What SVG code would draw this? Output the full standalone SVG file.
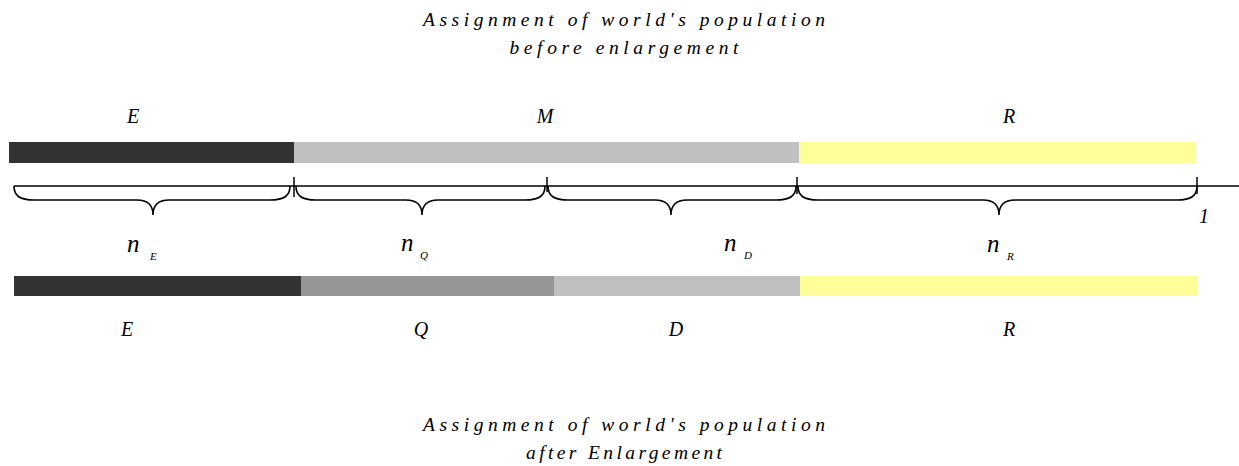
<svg xmlns="http://www.w3.org/2000/svg" width="1239" height="466" viewBox="0 0 1239 466">
<style>
text{font-family:"Liberation Serif","Times New Roman",serif;font-style:italic;fill:#000}
.t{font-size:19.5px;text-anchor:middle}
.l{font-size:20px;text-anchor:middle}
.n{font-size:25px}
.s{font-size:11px}
.br{fill:none;stroke:#000;stroke-width:1.6}
.ax{stroke:#000;stroke-width:1.5}
</style>
<rect width="1239" height="466" fill="#fff"/>
<g id="title-before">
<text class="t" x="624" y="26" textLength="402" lengthAdjust="spacing">Assignment of world's population</text>
<text class="t" x="624" y="54" textLength="229" lengthAdjust="spacing">before enlargement</text>
</g>
<g id="bar-before">
<rect x="9" y="142" width="285" height="21" fill="#333333"/>
<rect x="294" y="142" width="506" height="21" fill="#c0c0c0"/>
<rect x="799" y="142" width="397" height="21" fill="#ffff99"/>
<text class="l" x="133" y="123">E</text>
<text class="l" x="545" y="123">M</text>
<text class="l" x="1009" y="123">R</text>
</g>
<g id="connectors">
<line class="ax" x1="14" y1="186" x2="1239" y2="186"/>
<line class="ax" x1="294" y1="177" x2="294" y2="197"/>
<line class="ax" x1="547" y1="177" x2="547" y2="192"/>
<line class="ax" x1="797" y1="177" x2="797" y2="194"/>
<line class="ax" x1="1197" y1="177" x2="1197" y2="194"/>
<path class="br" d="M14,186 C14,196 20,200 34,200 L137,200 C147,200 153,204 153,215 C153,204 159,200 169,200 L270,200 C284,200 290,196 290,186"/>
<path class="br" d="M296,186 C296,196 302,200 316,200 L406,200 C416,200 422,204 422,215 C422,204 428,200 438,200 L525,200 C539,200 545,196 545,186"/>
<path class="br" d="M548,186 C548,196 554,200 568,200 L655,200 C665,200 671,204 671,215 C671,204 677,200 687,200 L776,200 C790,200 796,196 796,186"/>
<path class="br" d="M798,186 C798,196 804,200 818,200 L983,200 C993,200 999,204 999,215 C999,204 1005,200 1015,200 L1177,200 C1191,200 1197,196 1197,186"/>
<text class="l" x="1204" y="223">1</text>
</g>
<g id="labels-n">
<text class="n" x="127" y="252">n</text><text class="s" x="150" y="260">E</text>
<text class="n" x="401" y="251">n</text><text class="s" x="420" y="259">Q</text>
<text class="n" x="724" y="251">n</text><text class="s" x="744" y="259">D</text>
<text class="n" x="987" y="252">n</text><text class="s" x="1007" y="260">R</text>
</g>
<g id="bar-after">
<rect x="14" y="276" width="287" height="20" fill="#333333"/>
<rect x="301" y="276" width="253" height="20" fill="#969696"/>
<rect x="554" y="276" width="246" height="20" fill="#c0c0c0"/>
<rect x="800" y="276" width="398" height="20" fill="#ffff99"/>
<text class="l" x="127" y="336">E</text>
<text class="l" x="421" y="336">Q</text>
<text class="l" x="676" y="336">D</text>
<text class="l" x="1009" y="336">R</text>
</g>
<g id="title-after">
<text class="t" x="624" y="431" textLength="402" lengthAdjust="spacing">Assignment of world's population</text>
<text class="t" x="624" y="459" textLength="196" lengthAdjust="spacing">after Enlargement</text>
</g>
</svg>
